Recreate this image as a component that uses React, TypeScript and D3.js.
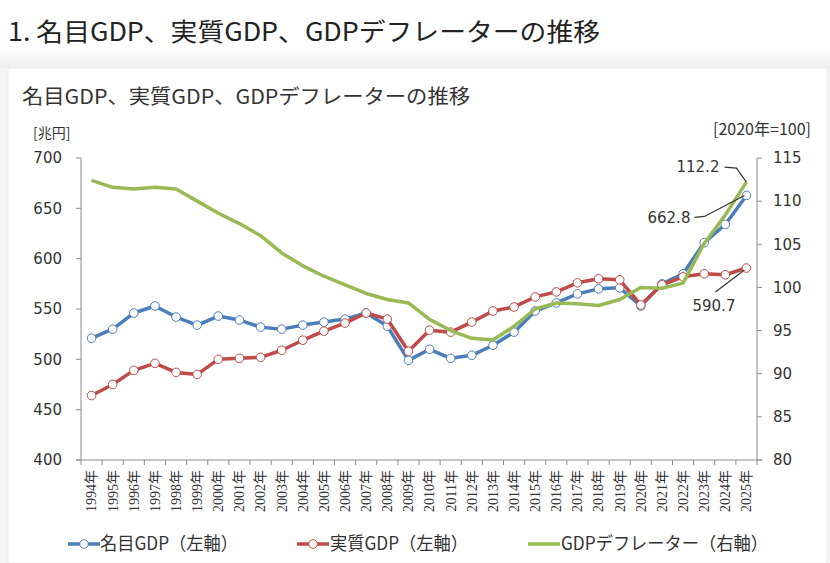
import { useMemo } from 'react';
import * as d3 from 'd3';

const years = [
  '1994年', '1995年', '1996年', '1997年', '1998年', '1999年', '2000年', '2001年',
  '2002年', '2003年', '2004年', '2005年', '2006年', '2007年', '2008年', '2009年',
  '2010年', '2011年', '2012年', '2013年', '2014年', '2015年', '2016年', '2017年',
  '2018年', '2019年', '2020年', '2021年', '2022年', '2023年', '2024年', '2025年',
];

// 名目GDP (兆円)
const nominal = [
  521, 530, 546, 553, 542, 534, 543, 539, 532, 530, 534, 537, 540, 546, 533, 499,
  510, 501, 504, 514, 527, 548, 556, 565, 570, 571, 553, 575, 585, 616, 634, 662.8,
];

// 実質GDP (兆円)
const real = [
  464, 475, 489, 496, 487, 485, 500, 501, 502, 509, 519, 528, 536, 546, 540, 508,
  529, 527, 537, 548, 552, 562, 567, 576, 580, 579, 554, 574, 582, 585, 584, 590.7,
];

// GDPデフレーター (2020年=100)
const deflator = [
  112.4, 111.6, 111.4, 111.6, 111.4, 110.0, 108.6, 107.4, 106.0, 104.0, 102.5, 101.3,
  100.3, 99.3, 98.6, 98.2, 96.3, 95.0, 94.1, 93.9, 95.5, 97.5, 98.2, 98.1, 97.9,
  98.6, 100.0, 99.9, 100.5, 105.1, 108.4, 112.2,
];

const leftTicks = [400, 450, 500, 550, 600, 650, 700];
const rightTicks = [80, 85, 90, 95, 100, 105, 110, 115];

const BLUE = '#4a7ebb';
const RED = '#be4b48';
const GREEN = '#98b954';
const AXIS = '#8c8c8c';
const TEXT = '#333';

const JP = '"Noto Sans CJK JP", "Noto Sans", sans-serif';
const NUM = '"DejaVu Sans", Verdana, sans-serif';

export default function App() {
  const W = 830;
  const H = 563;
  const plot = { left: 81, right: 757, top: 158, bottom: 460 };

  const x = useMemo(
    () => d3.scaleBand<string>().domain(years).range([plot.left, plot.right]).padding(0),
    [],
  );
  const yL = useMemo(
    () => d3.scaleLinear().domain([400, 700]).range([plot.bottom, plot.top]),
    [],
  );
  const yR = useMemo(
    () => d3.scaleLinear().domain([80, 115]).range([plot.bottom, plot.top]),
    [],
  );

  const cx = (i: number) => (x(years[i]) ?? 0) + x.bandwidth() / 2;

  const lineL = d3
    .line<number>()
    .x((_, i) => cx(i))
    .y((d) => yL(d));
  const lineR = d3
    .line<number>()
    .x((_, i) => cx(i))
    .y((d) => yR(d));

  const last = years.length - 1;
  const pNom = { x: cx(last), y: yL(nominal[last]) };
  const pReal = { x: cx(last), y: yL(real[last]) };
  const pDef = { x: cx(last), y: yR(deflator[last]) };

  const bandEdges = years.map((y) => x(y) ?? 0).concat([plot.right]);

  return (
    <div style={{ position: 'absolute', left: 0, top: 0 }}>
      <svg width={W} height={H} style={{ display: 'block' }}>
        <defs>
          <linearGradient id="bandGrad" x1="0" y1="0" x2="0" y2="1">
            <stop offset="0" stopColor="#ffffff" />
            <stop offset="1" stopColor="#eeeeee" />
          </linearGradient>
        </defs>
        <rect x={0} y={0} width={W} height={H} fill="#f4f4f4" />
        <rect x={0} y={0} width={W} height={48} fill="#ffffff" />
        <rect x={0} y={48} width={W} height={20} fill="url(#bandGrad)" />
        <rect x={8} y={68} width={819} height={H - 68} fill="#ffffff" stroke="#ececec" />

        {/* page heading */}
        <text
          x={8}
          y={41}
          fontFamily={JP}
          fontSize={25}
          fontWeight={400}
          fill="#222"
          textLength={592}
          lengthAdjust="spacingAndGlyphs"
        >
          1. 名目GDP、実質GDP、GDPデフレーターの推移
        </text>

        {/* chart title */}
        <text
          x={22}
          y={104}
          fontFamily={JP}
          fontSize={20}
          fill={TEXT}
          textLength={448}
          lengthAdjust="spacingAndGlyphs"
        >
          名目GDP、実質GDP、GDPデフレーターの推移
        </text>

        <text x={33} y={138} fontFamily={JP} fontSize={14} fill={TEXT}>
          [兆円]
        </text>
        <text
          x={811}
          y={135}
          textAnchor="end"
          fontFamily={JP}
          fontSize={16}
          fill={TEXT}
          textLength={98}
          lengthAdjust="spacingAndGlyphs"
        >
          [2020年=100]
        </text>

        {/* left axis */}
        <line x1={plot.left} x2={plot.left} y1={plot.top} y2={plot.bottom} stroke={AXIS} />
        {leftTicks.map((t) => (
          <g key={'l' + t}>
            <line x1={plot.left - 5} x2={plot.left} y1={yL(t)} y2={yL(t)} stroke={AXIS} />
            <text
              x={62}
              y={yL(t)}
              dy="0.35em"
              textAnchor="end"
              fontFamily={NUM}
              fontSize={15}
              fill={TEXT}
            >
              {t}
            </text>
          </g>
        ))}

        {/* right axis */}
        <line x1={plot.right} x2={plot.right} y1={plot.top} y2={plot.bottom} stroke={AXIS} />
        {rightTicks.map((t) => (
          <g key={'r' + t}>
            <line x1={plot.right} x2={plot.right + 5} y1={yR(t)} y2={yR(t)} stroke={AXIS} />
            <text
              x={773}
              y={yR(t)}
              dy="0.35em"
              fontFamily={NUM}
              fontSize={15}
              fill={TEXT}
            >
              {t}
            </text>
          </g>
        ))}

        {/* bottom axis */}
        <line x1={plot.left - 5} x2={plot.right + 5} y1={plot.bottom} y2={plot.bottom} stroke={AXIS} />
        {bandEdges.map((e, i) => (
          <line key={'b' + i} x1={e} x2={e} y1={plot.bottom} y2={plot.bottom + 5} stroke={AXIS} />
        ))}
        {years.map((yr, i) => (
          <text
            key={yr}
            transform={`translate(${cx(i)},${plot.bottom + 10}) rotate(-90)`}
            dy="0.35em"
            textAnchor="end"
            fontFamily='"Liberation Serif", "Noto Sans CJK JP", serif'
            fontSize={14}
            fill={TEXT}
          >
            {yr}
          </text>
        ))}

        {/* series */}
        <path d={lineL(nominal) ?? ''} fill="none" stroke={BLUE} strokeWidth={3.5} strokeLinejoin="round" />
        {nominal.map((v, i) => (
          <circle key={'n' + i} cx={cx(i)} cy={yL(v)} r={4.3} fill="#fff" stroke={BLUE} strokeWidth={1} />
        ))}
        <path d={lineL(real) ?? ''} fill="none" stroke={RED} strokeWidth={3.5} strokeLinejoin="round" />
        {real.map((v, i) => (
          <circle key={'re' + i} cx={cx(i)} cy={yL(v)} r={4.3} fill="#fff" stroke={RED} strokeWidth={1} />
        ))}
        <path d={lineR(deflator) ?? ''} fill="none" stroke={GREEN} strokeWidth={3.5} strokeLinejoin="round" />

        {/* annotations */}
        <polyline
          points={`${pDef.x - 22},${pDef.y - 15} ${pDef.x - 10},${pDef.y - 14} ${pDef.x},${pDef.y}`}
          fill="none"
          stroke="#333"
          strokeWidth={1.2}
        />
        <text x={pDef.x - 27} y={pDef.y - 15} dy="0.35em" textAnchor="end" fontFamily={NUM} fontSize={15} fill={TEXT}>
          112.2
        </text>
        <polyline
          points={`${pNom.x - 52},${pNom.y + 22} ${pNom.x - 42},${pNom.y + 21} ${pNom.x - 2},${pNom.y}`}
          fill="none"
          stroke="#333"
          strokeWidth={1.2}
        />
        <text x={pNom.x - 56} y={pNom.y + 22} dy="0.35em" textAnchor="end" fontFamily={NUM} fontSize={15} fill={TEXT}>
          662.8
        </text>
        <line x1={pReal.x - 31} y1={pReal.y + 24} x2={pReal.x - 2} y2={pReal.y + 2} stroke="#333" strokeWidth={1.2} />
        <text x={pReal.x - 11} y={pReal.y + 38} dy="0.35em" textAnchor="end" fontFamily={NUM} fontSize={15} fill={TEXT}>
          590.7
        </text>

        {/* legend */}
        <g>
          <line x1={68} x2={100} y1={544} y2={544} stroke={BLUE} strokeWidth={3.5} />
          <circle cx={84} cy={544} r={4.3} fill="#fff" stroke={BLUE} strokeWidth={1} />
          <text x={100} y={544} dy="0.35em" fontFamily={JP} fontSize={18} fill={TEXT} textLength={138} lengthAdjust="spacingAndGlyphs">
            名目GDP（左軸）
          </text>
          <line x1={297} x2={329} y1={544} y2={544} stroke={RED} strokeWidth={3.5} />
          <circle cx={313} cy={544} r={4.3} fill="#fff" stroke={RED} strokeWidth={1} />
          <text x={330} y={544} dy="0.35em" fontFamily={JP} fontSize={18} fill={TEXT} textLength={138} lengthAdjust="spacingAndGlyphs">
            実質GDP（左軸）
          </text>
          <line x1={528} x2={560} y1={544} y2={544} stroke={GREEN} strokeWidth={3.5} />
          <text x={561} y={544} dy="0.35em" fontFamily={JP} fontSize={18} fill={TEXT} textLength={207} lengthAdjust="spacingAndGlyphs">
            GDPデフレーター（右軸）
          </text>
        </g>
      </svg>
    </div>
  );
}
